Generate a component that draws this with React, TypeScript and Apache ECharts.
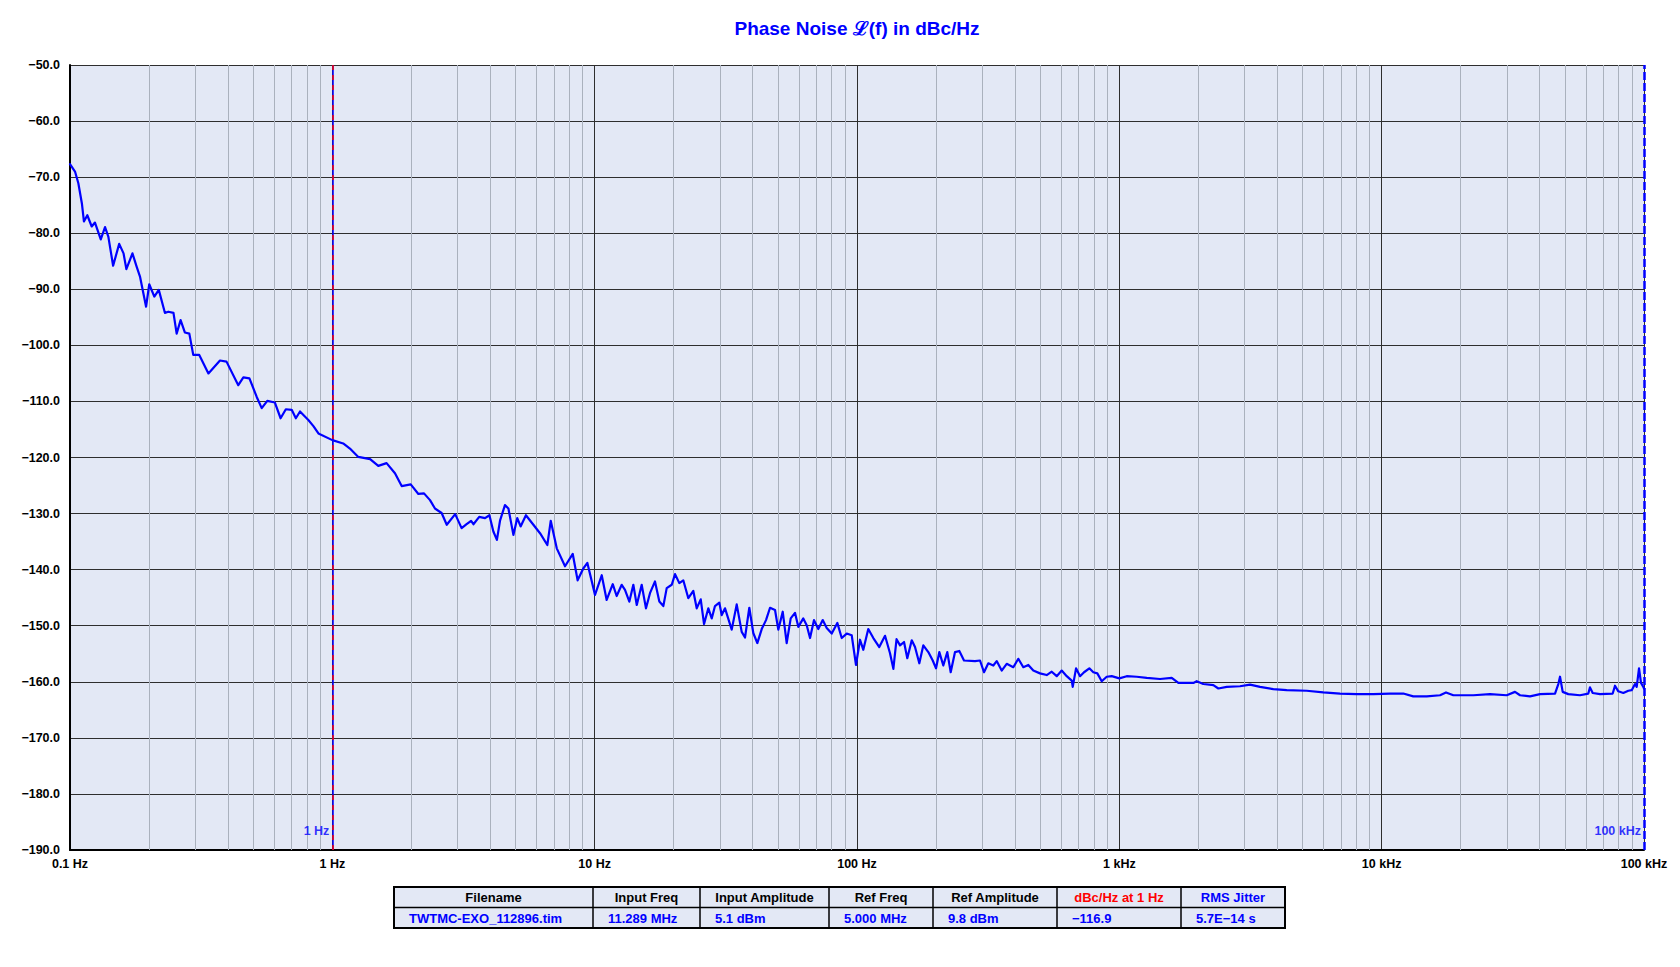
import { useEffect, useRef } from 'react';
import * as echarts from 'echarts';

// ---- Data ----
const noiseFreqHz = [
  0.1, 0.1045, 0.1076, 0.111, 0.113, 0.1164, 0.121, 0.1245, 0.131, 0.136,
  0.14, 0.146, 0.154, 0.16, 0.164, 0.173, 0.1796, 0.185, 0.195, 0.2005,
  0.2096, 0.218, 0.23, 0.237, 0.248, 0.255, 0.264, 0.274, 0.285, 0.295,
  0.311, 0.337, 0.373, 0.395, 0.438, 0.458, 0.483, 0.515, 0.538, 0.565,
  0.604, 0.635, 0.665, 0.7, 0.726, 0.753, 0.81, 0.847, 0.885, 1.0,
  1.1, 1.167, 1.256, 1.393, 1.497, 1.61, 1.733, 1.838, 1.99, 2.128,
  2.236, 2.357, 2.462, 2.61, 2.73, 2.94, 3.11, 3.25, 3.38, 3.45,
  3.63, 3.82, 3.97, 4.11, 4.24, 4.36, 4.55, 4.69, 4.9, 5.07,
  5.22, 5.47, 5.84, 6.19, 6.6, 6.8, 7.17, 7.71, 8.25, 8.61,
  9.05, 9.38, 10.03, 10.64, 11.11, 11.72, 12.13, 12.68, 13.05, 13.56,
  14.04, 14.47, 15.11, 15.69, 16.25, 16.98, 17.64, 18.27, 18.82, 19.67,
  20.25, 21.02, 21.77, 22.75, 23.77, 24.49, 25.37, 26.12, 27.12, 27.94,
  28.75, 29.86, 30.5, 31.4, 33.3, 34.79, 36.35, 37.42, 38.86, 40.24,
  41.69, 43.33, 44.99, 46.61, 48.7, 50.12, 52.1, 53.95, 55.88, 58.03,
  59.74, 62.41, 64.31, 66.22, 68.57, 71.21, 74.02, 76.66, 80.11, 84.14,
  87.45, 91.38, 95.46, 99.1, 102.7, 105.7, 110.4, 115.4, 121.6, 127.9,
  133.6, 137.6, 141.5, 145.9, 151.1, 155.5, 161.7, 166.4, 172.8, 179.0,
  187.0, 194.4, 200.1, 206.0, 213.3, 220.9, 227.6, 236.4, 245.5, 255.8,
  281.8, 294.4, 304.9, 316.6, 330.8, 340.8, 356.1, 372.1, 394.3, 412.0,
  430.5, 449.8, 470.0, 498.4, 528.7, 552.5, 577.2, 603.1, 630.2, 658.5,
  664.3, 683.9, 708.3, 733.6, 768.5, 795.9, 824.4, 856.8, 895.3, 935.4,
  1000, 1067, 1165, 1272, 1429, 1584, 1679, 1915, 1972, 2090,
  2282, 2385, 2567, 2884, 3150, 3439, 3864, 4346, 5179, 5990,
  6937, 8034, 9296, 10760, 12090, 13200, 14850, 16690, 17590, 18760,
  22360, 25880, 29970, 32230, 33680, 36770, 40150, 45800, 47140, 47850,
  48990, 51450, 57020, 61330, 62250, 63750, 67960, 75980, 77530, 79810,
  83400, 87140, 89770, 92410, 93800, 95720, 97410, 99400, 100000
];

const noiseDbcHz = [
  -67.7, -69.0, -71.1, -74.7, -77.9, -76.8, -78.8, -78.1, -81.1, -78.9,
  -80.6, -85.8, -81.9, -83.6, -86.4, -83.6, -86.0, -87.8, -93.1, -89.1,
  -91.3, -90.1, -94.2, -94.0, -94.2, -97.9, -95.5, -97.7, -97.9, -101.7,
  -101.7, -105.0, -102.7, -102.9, -107.1, -105.7, -105.9, -109.2, -111.2, -109.9,
  -110.2, -113.0, -111.4, -111.5, -113.0, -111.8, -113.3, -114.4, -115.7, -116.9,
  -117.5, -118.4, -119.9, -120.3, -121.5, -121.0, -122.8, -125.1, -124.8, -126.5,
  -126.4, -127.6, -129.1, -129.9, -132.0, -130.1, -132.6, -131.9, -131.3, -131.9,
  -130.6, -130.8, -130.3, -133.2, -134.7, -131.2, -128.5, -129.1, -133.8, -130.8,
  -132.3, -130.3, -132.0, -133.5, -135.6, -131.3, -136.2, -139.4, -137.2, -141.9,
  -139.8, -138.8, -144.5, -141.0, -145.4, -142.6, -144.7, -142.7, -143.6, -145.7,
  -142.7, -146.3, -142.7, -146.9, -144.2, -142.1, -145.7, -146.5, -143.3, -142.7,
  -140.8, -142.4, -141.9, -145.1, -143.8, -146.9, -145.3, -149.7, -146.9, -148.7,
  -146.5, -145.9, -148.1, -146.9, -150.7, -146.2, -151.1, -152.1, -146.8, -151.3,
  -153.1, -150.6, -149.0, -146.8, -147.2, -150.7, -147.5, -153.1, -148.7, -147.7,
  -150.2, -148.7, -149.9, -152.2, -149.0, -150.6, -149.0, -150.4, -151.4, -149.5,
  -152.2, -151.4, -151.7, -157.0, -152.5, -154.3, -150.6, -152.2, -153.8, -151.8,
  -154.9, -157.7, -152.4, -153.5, -152.9, -155.8, -152.6, -153.8, -156.7, -153.5,
  -154.7, -156.2, -157.6, -154.7, -157.1, -154.7, -158.3, -154.7, -154.5, -156.2,
  -156.3, -156.2, -158.3, -156.7, -157.1, -156.3, -158.0, -156.8, -157.4, -155.9,
  -157.4, -157.0, -158.0, -158.5, -158.8, -158.2, -159.0, -158.0, -159.0, -159.8,
  -160.9, -157.6, -159.0, -158.3, -157.6, -158.3, -158.5, -159.9, -159.1, -159.0,
  -159.4, -159.0, -159.1, -159.3, -159.5, -159.3, -160.2, -160.2, -159.9, -160.4,
  -160.6, -161.2, -160.9, -160.8, -160.5, -160.9, -161.3, -161.5, -161.6, -161.9,
  -162.1, -162.2, -162.2, -162.1, -162.1, -162.6, -162.6, -162.4, -161.9, -162.4,
  -162.4, -162.2, -162.4, -161.8, -162.4, -162.6, -162.2, -162.1, -160.4, -159.1,
  -161.8, -162.2, -162.4, -162.1, -161.0, -162.0, -162.2, -162.1, -160.7, -161.7,
  -162.0, -161.6, -161.5, -160.4, -160.9, -157.6, -160.2, -160.9, -161.2
];

const xTickLabels = ['0.1 Hz', '1 Hz', '10 Hz', '100 Hz', '1 kHz', '10 kHz', '100 kHz'];
const yMin = -190;
const yMax = -50;
const yStep = 10;

const markerFreqs = [1, 100000];
const markerLabels = ['1 Hz', '100 kHz'];
const markerLabelLevel = -186.6;

const tableHeaders = ['Filename', 'Input Freq', 'Input Amplitude', 'Ref Freq', 'Ref Amplitude', 'dBc/Hz at 1 Hz', 'RMS Jitter'];
const tableValues = ['TWTMC-EXO_112896.tim', '11.289 MHz', '5.1 dBm', '5.000 MHz', '9.8 dBm', '\u2212116.9', '5.7E\u221214 s'];

const titleText = 'Phase Noise \u2112(f) in dBc/Hz';

// ---- Layout / styles ----
const FONT = '"Liberation Sans", Arial, Helvetica, sans-serif';
const BLUE = '#0000FF';
const RED = '#FF0000';
const PLOT_BG = '#E3E8F5';
const MAJOR = '#2E2E2E';
const MINOR = '#AAB1BD';
const headerColors = ['#000', '#000', '#000', '#000', '#000', RED, BLUE];
const colEdges = [394, 593, 700, 829, 933, 1057, 1181, 1285];
const tableTop = 887;
const tableMid = 907.5;
const tableBottom = 928;

export default function App() {
  const ref = useRef<HTMLDivElement>(null);

  useEffect(() => {
    if (!ref.current) return;
    const chart = echarts.init(ref.current, undefined, { renderer: 'svg' });

    const lineData = noiseFreqHz.map((f, i) => [f, noiseDbcHz[i]]);

    const minorFreqs: number[] = [];
    for (let d = -1; d <= 4; d++) {
      for (let m = 2; m <= 9; m++) minorFreqs.push(Number((m * Math.pow(10, d)).toPrecision(6)));
    }

    const graphics: any[] = [
      {
        type: 'text',
        x: 857,
        y: 28,
        style: {
          text: titleText,
          fill: BLUE,
          font: `bold 19px ${FONT}`,
          align: 'center',
          verticalAlign: 'middle',
        },
      },
      {
        type: 'rect',
        shape: { x: colEdges[0], y: tableTop, width: colEdges[colEdges.length - 1] - colEdges[0], height: tableBottom - tableTop },
        style: { fill: PLOT_BG, stroke: '#000', lineWidth: 2 },
      },
      {
        type: 'line',
        shape: { x1: colEdges[0], y1: tableMid, x2: colEdges[colEdges.length - 1], y2: tableMid },
        style: { stroke: '#000', lineWidth: 1.5 },
      },
    ];
    for (let i = 1; i < colEdges.length - 1; i++) {
      graphics.push({
        type: 'line',
        shape: { x1: colEdges[i], y1: tableTop, x2: colEdges[i], y2: tableBottom },
        style: { stroke: '#000', lineWidth: 1.5 },
      });
    }
    tableHeaders.forEach((h, i) => {
      graphics.push({
        type: 'text',
        x: (colEdges[i] + colEdges[i + 1]) / 2,
        y: (tableTop + tableMid) / 2 + 0.5,
        style: { text: h, fill: headerColors[i], font: `bold 13px ${FONT}`, align: 'center', verticalAlign: 'middle' },
      });
    });
    tableValues.forEach((v, i) => {
      graphics.push({
        type: 'text',
        x: colEdges[i] + 15,
        y: (tableMid + tableBottom) / 2 + 0.5,
        style: { text: v, fill: BLUE, font: `bold 13px ${FONT}`, align: 'left', verticalAlign: 'middle' },
      });
    });

    const option: any = {
      animation: false,
      backgroundColor: '#FFFFFF',
      textStyle: { fontFamily: FONT },
      grid: {
        left: 70,
        top: 65,
        width: 1574,
        height: 785,
        show: true,
        backgroundColor: PLOT_BG,
        borderWidth: 0,
      },
      xAxis: {
        type: 'log',
        logBase: 10,
        min: 0.1,
        max: 100000,
        splitNumber: 6,
        axisLine: { show: true, onZero: false, lineStyle: { color: '#000', width: 2 } },
        axisTick: { show: false },
        splitLine: { show: true, lineStyle: { color: MAJOR, width: 1 } },
        axisLabel: {
          margin: 7,
          color: '#000',
          fontWeight: 'bold',
          fontSize: 12.5,
          fontFamily: FONT,
          showMinLabel: true,
          showMaxLabel: true,
          formatter: (v: number) => {
            const idx = Math.round(Math.log10(v)) + 1;
            return xTickLabels[idx] ?? '';
          },
        },
      },
      yAxis: {
        type: 'value',
        min: yMin,
        max: yMax,
        interval: yStep,
        axisLine: { show: true, onZero: false, lineStyle: { color: '#000', width: 2 } },
        axisTick: { show: false },
        splitLine: { show: true, lineStyle: { color: MAJOR, width: 1 } },
        axisLabel: {
          margin: 10,
          color: '#000',
          fontWeight: 'bold',
          fontSize: 12.5,
          fontFamily: FONT,
          formatter: (v: number) => v.toFixed(1).replace('-', '\u2212'),
        },
      },
      graphic: graphics,
      series: [
        {
          name: 'minor',
          type: 'line',
          data: [],
          z: 1,
          silent: true,
          markLine: {
            silent: true,
            symbol: ['none', 'none'],
            label: { show: false },
            lineStyle: { color: MINOR, width: 1, type: 'solid' },
            data: minorFreqs.map((f) => ({ xAxis: f })),
          },
        },
        {
          name: 'Phase Noise',
          type: 'line',
          data: lineData,
          showSymbol: false,
          symbol: 'none',
          z: 5,
          lineStyle: { color: BLUE, width: 2.2, join: 'round', cap: 'round' },
        },
        {
          name: 'markerBlue',
          type: 'line',
          data: [],
          z: 6,
          silent: true,
          markLine: {
            silent: true,
            symbol: ['none', 'none'],
            label: { show: false },
            data: [
              { xAxis: markerFreqs[0], lineStyle: { color: BLUE, width: 1.5, type: 'solid' } },
              { xAxis: markerFreqs[1], lineStyle: { color: BLUE, width: 2.5, type: [8, 3] } },
            ],
          },
        },
        {
          name: 'markerRed',
          type: 'line',
          data: [],
          z: 7,
          silent: true,
          markLine: {
            silent: true,
            symbol: ['none', 'none'],
            label: { show: false },
            data: [{ xAxis: markerFreqs[0], lineStyle: { color: RED, width: 1.5, type: [5, 5] } }],
          },
        },
        {
          name: 'markerLabels',
          type: 'scatter',
          symbolSize: 0,
          z: 8,
          silent: true,
          data: markerFreqs.map((f, i) => ({ value: [f, markerLabelLevel], name: markerLabels[i] })),
          label: {
            show: true,
            position: 'left',
            distance: 3,
            color: BLUE,
            fontWeight: 'bold',
            fontSize: 12.5,
            fontFamily: FONT,
            formatter: (p: any) => p.name,
          },
        },
      ],
    };

    chart.setOption(option);
    return () => chart.dispose();
  }, []);

  return (
    <div
      ref={ref}
      style={{ position: 'fixed', left: 0, top: 0, width: 1680, height: 967, background: '#fff' }}
    />
  );
}
